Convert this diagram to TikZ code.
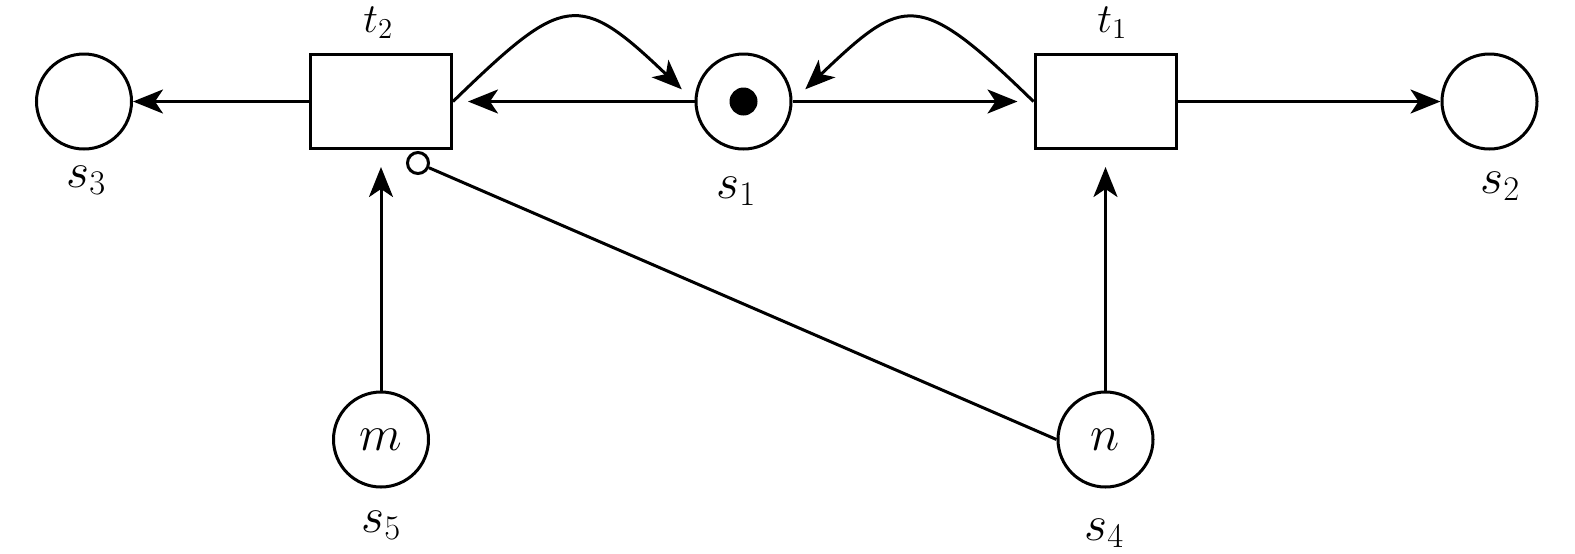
\documentclass[tikz,border=0pt]{standalone}
\usepackage{fontspec}
\usetikzlibrary{arrows.meta}
\begin{document}
\begin{tikzpicture}[x=0.5pt,y=-0.5pt,
  lw/.style={line width=1.5pt},
  place/.style={circle,draw,lw,minimum size=47.5pt,inner sep=0pt,font=\fontsize{24}{24}\selectfont},
  trans/.style={rectangle,draw,lw,minimum width=70.5pt,minimum height=47pt,inner sep=0pt},
  lab/.style={anchor=base west,inner sep=0pt,font=\fontsize{24}{24}\selectfont},
  tlab/.style={lab,font=\fontsize{21}{21}\selectfont},
  arc/.style={lw,-{Stealth[length=15pt,width=12pt,inset=4pt]}},
  inhib/.style={circle,draw,lw,minimum size=10.5pt,inner sep=0pt,fill=white},
  token/.style={circle,fill,minimum size=14pt,inner sep=0pt}]
\useasboundingbox (0,0) rectangle (1575,553);
% places
\node[place] (s3) at (84,101.5) {};
\node[place] (s1) at (743.5,101.5) {};
\node[place] (s2) at (1489.5,101.5) {};
\node[place] (s5) at (381,439.5) {$m$};
\node[place] (s4) at (1105.5,439.5) {$n$};
\node[token] (tok) at (s1) {};
% transitions
\node[trans] (t2) at (381,101.5) {};
\node[trans] (t1) at (1105.5,101.5) {};
% labels
\node[tlab] (lt2) at (363,32) {$t_2$};
\node[tlab] (lt1) at (1097,32) {$t_1$};
\node[lab] (ls3) at (66,187) {$s_3$};
\node[lab] (ls1) at (716,198) {$s_1$};
\node[lab] (ls2) at (1480,193) {$s_2$};
\node[lab] (ls5) at (361,532) {$s_5$};
\node[lab] (ls4) at (1084,540) {$s_4$};
% arcs
\draw[arc] (t2) -- (s3);
\draw[arc, shorten >=7.5pt] (s1) -- (t2);
\draw[arc, shorten >=8pt] (s1) -- (t1);
\draw[arc] (t1) -- (s2);
\draw[arc, shorten >=8.5pt] (s5) -- (t2);
\draw[arc, shorten >=8.5pt] (s4) -- (t1);
\draw[arc, shorten >=8.8pt] (t2.east) .. controls (564,-6) and (578,-10) .. (s1.west);
\draw[arc, shorten >=8.8pt] (t1.west) .. controls (918,-11) and (904,-5) .. (s1.east);
% inhibitor arc
\node[inhib] (ic) at (418,163) {};
\draw[lw] (s4.west) -- (ic);
\end{tikzpicture}
\end{document}
